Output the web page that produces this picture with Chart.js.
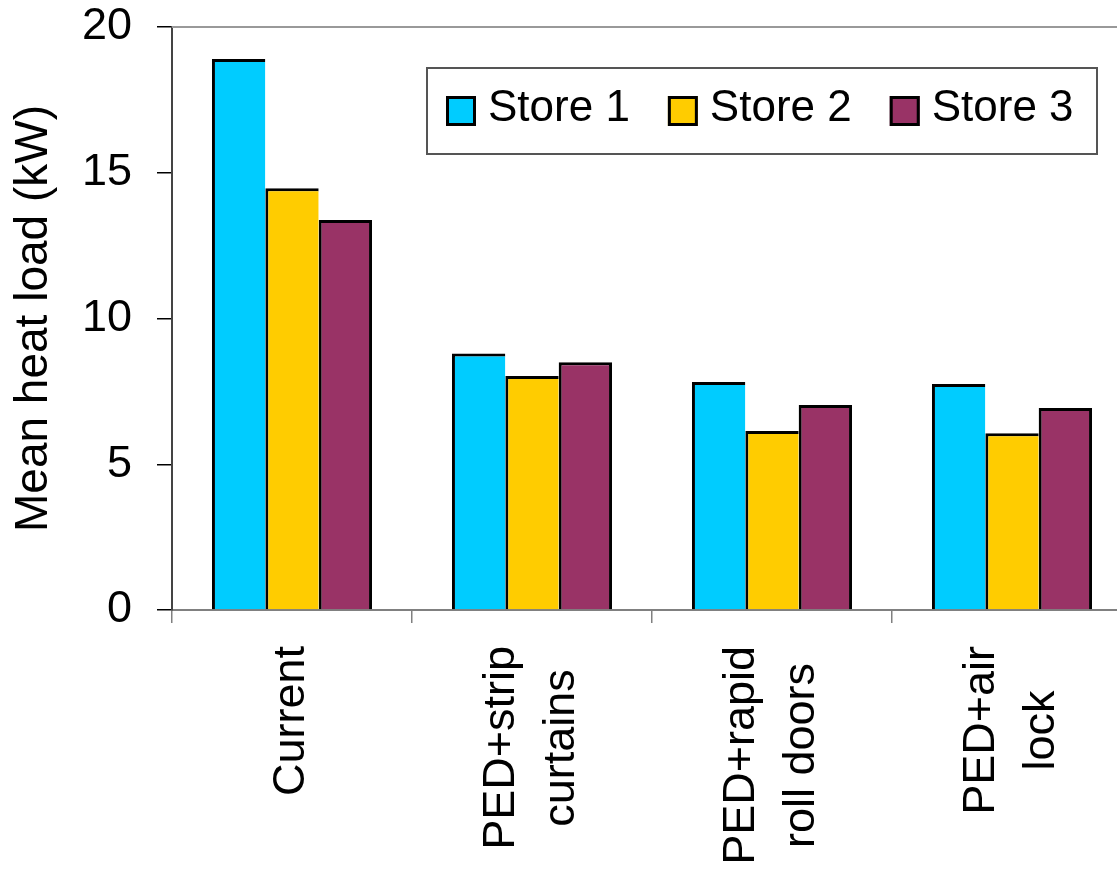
<!DOCTYPE html>
<html>
<head>
<meta charset="utf-8">
<title>Mean heat load</title>
<script src="https://cdn.jsdelivr.net/npm/chart.js@4.4.0/dist/chart.umd.min.js"></script>
<style>
    html, body { margin: 0; padding: 0; background: #fff; overflow: hidden; }
    /* the original picture is cropped on the right, so the canvas is a bit wider than the window */
    #wrap { position: relative; width: 1140px; height: 874px; }
</style>
</head>
<body>
<div id="wrap"><canvas id="heat-chart"></canvas></div>
<script>

const categories = [['Current'], ['PED+strip', 'curtains'], ['PED+rapid', 'roll doors'], ['PED+air', 'lock']];
const seriesNames = ['Store 1', 'Store 2', 'Store 3'];

const store1 = [18.9, 8.8, 7.82, 7.75];
const store2 = [14.47, 8.03, 6.14, 6.06];
const store3 = [13.38, 8.5, 7.03, 6.93];

const yTicks = [0, 5, 10, 15, 20];

const seriesColors = ['#00CCFF', '#FFCC00', '#993366'];

const fontFamily = '"Liberation Sans", Arial, sans-serif';


// grey frame of the plot area (top + right side), like the excel plot area
const plotFrame = {
    id: 'plotFrame',
    beforeDatasetsDraw(chart) {
        const { ctx, chartArea } = chart;
        ctx.save();
        ctx.strokeStyle = '#999';
        ctx.lineWidth = 2;
        ctx.beginPath();
        ctx.moveTo(chartArea.left, chartArea.top);
        ctx.lineTo(chartArea.right, chartArea.top);
        ctx.lineTo(chartArea.right, chartArea.bottom);
        ctx.stroke();
        ctx.restore();
    }
};


// rotated category labels, lines centred on each other
const categoryLabels = {
    id: 'categoryLabels',
    afterDraw(chart) {
        const { ctx } = chart;
        const xScale = chart.scales.x;
        ctx.save();
        ctx.font = `45px ${fontFamily}`;
        ctx.fillStyle = '#000';
        ctx.textAlign = 'center';
        ctx.textBaseline = 'middle';

        chart.data.labels.forEach((lines, i) => {
            const cx = xScale.getPixelForValue(i);
            const longest = Math.max(...lines.map((l) => ctx.measureText(l).width));
            const cy = xScale.top + 36 + longest / 2;

            lines.forEach((line, j) => {
                ctx.save();
                ctx.translate(cx + (j - (lines.length - 1) / 2) * 60, cy);
                ctx.rotate(-Math.PI / 2);
                ctx.fillText(line, 0, 0);
                ctx.restore();
            });
        });
        ctx.restore();
    }
};


// legend inside a bordered box
const boxedLegend = {
    id: 'boxedLegend',
    afterDraw(chart) {
        const { ctx, chartArea } = chart;
        const left = chartArea.left + 255;
        const top = chartArea.top + 41;
        const width = 670;
        const height = 86;

        ctx.save();
        ctx.fillStyle = '#fff';
        ctx.fillRect(left, top, width, height);
        ctx.strokeStyle = '#555';
        ctx.lineWidth = 2;
        ctx.strokeRect(left, top, width, height);

        ctx.font = `44px ${fontFamily}`;
        ctx.textAlign = 'left';
        ctx.textBaseline = 'middle';

        const midY = top + 43;
        let ix = left + 19;

        chart.data.datasets.forEach((ds) => {
            ctx.fillStyle = ds.backgroundColor;
            ctx.fillRect(ix, midY - 15, 30, 30);
            ctx.strokeStyle = '#000';
            ctx.lineWidth = 3;
            ctx.strokeRect(ix + 1.5, midY - 13.5, 27, 27);

            ctx.fillStyle = '#000';
            ctx.fillText(ds.label, ix + 42, midY - 2);
            ix += 42 + ctx.measureText(ds.label).width + 38;
        });
        ctx.restore();
    }
};


function makeDataset(i, values) {
    return {
        label: seriesNames[i],
        data: values,
        backgroundColor: seriesColors[i],
        borderColor: '#000',
        // neighbouring bars share one border line
        borderWidth: { top: 3, left: 3, right: i === seriesNames.length - 1 ? 3 : 0, bottom: 0 },
        borderSkipped: false,
        barPercentage: 1.0,
        categoryPercentage: 0.667
    };
}


const ctx = document.getElementById('heat-chart').getContext('2d');

new Chart(ctx, {
    type: 'bar',
    data: {
        labels: categories,
        datasets: [
            makeDataset(0, store1),
            makeDataset(1, store2),
            makeDataset(2, store3)
        ]
    },
    options: {
        responsive: true,
        maintainAspectRatio: false,
        animation: false,
        devicePixelRatio: 1,
        layout: {
            padding: { top: 27, right: 8, left: 0, bottom: 0 }
        },
        plugins: {
            legend: { display: false },
            tooltip: { enabled: false }
        },
        scales: {
            x: {
                afterFit: (scale) => { scale.height = 264; },
                border: { color: '#808080', width: 2 },
                grid: {
                    offset: true,
                    drawOnChartArea: false,
                    drawTicks: true,
                    tickLength: 13,
                    color: '#808080',
                    lineWidth: 1.5
                },
                ticks: { display: false }
            },
            y: {
                min: 0,
                max: 20,
                afterBuildTicks: (scale) => {
                    scale.ticks = yTicks.map((v) => ({ value: v }));
                },
                afterFit: (scale) => {
                    scale.width = 172;
                    // tick padding would otherwise push the plot area down
                    scale.paddingTop = 0;
                    scale.paddingBottom = 0;
                },
                border: { color: '#444', width: 2 },
                grid: {
                    drawOnChartArea: false,
                    drawTicks: true,
                    tickLength: 15,
                    color: '#000',
                    lineWidth: 1.5
                },
                ticks: {
                    padding: 25,
                    color: '#000',
                    font: { size: 45, family: fontFamily }
                },
                title: {
                    display: true,
                    text: 'Mean heat load (kW)',
                    color: '#000',
                    font: { size: 46, family: fontFamily },
                    padding: { top: 7, bottom: 0 }
                }
            }
        }
    },
    plugins: [plotFrame, categoryLabels, boxedLegend]
});

</script>
</body>
</html>
